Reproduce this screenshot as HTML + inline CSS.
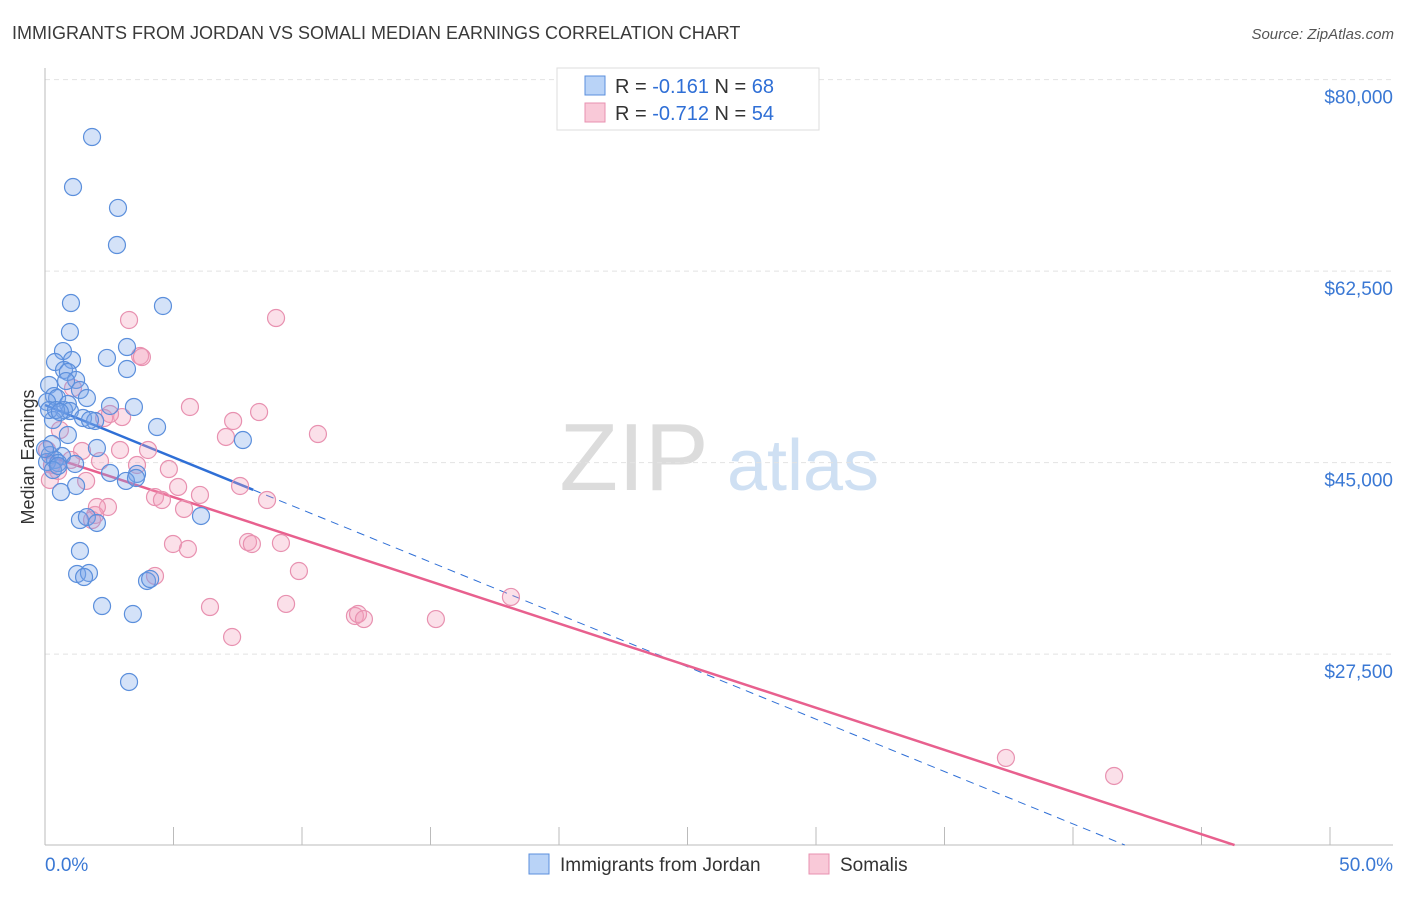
<!DOCTYPE html>
<html><head><meta charset="utf-8"><style>
body{margin:0;background:#fff;font-family:"Liberation Sans",sans-serif}
svg text{font-family:"Liberation Sans",sans-serif}
</style></head><body>
<svg id="chart" width="1406" height="892" viewBox="0 0 1406 892">
<text x="12" y="39" font-size="18" fill="#3a3a3a">IMMIGRANTS FROM JORDAN VS SOMALI MEDIAN EARNINGS CORRELATION CHART</text>
<text x="1394" y="39" font-size="15" fill="#555" font-style="italic" text-anchor="end">Source: ZipAtlas.com</text>
<g>
<text x="634" y="490" font-size="96" fill="#dcdcdc" font-family="Liberation Serif" text-anchor="middle">ZIP</text>
<text x="803" y="490" font-size="72" fill="#cfe0f3" text-anchor="middle">atlas</text>
</g>
<g id="grid"></g><g id="axes"></g><g id="lines"></g><g id="points"></g>
<text transform="translate(34,457) rotate(-90)" font-size="18" fill="#333" text-anchor="middle">Median Earnings</text>
<g>
<rect x="557" y="68" width="262" height="62" fill="#fff" stroke="#ddd"/>
<rect x="585" y="76" width="20" height="19" fill="#b9d3f7" stroke="#5b8fdc"/>
<text x="615" y="93" font-size="20" fill="#333">R = <tspan fill="#2f6fd6">-0.161</tspan>   N = <tspan fill="#2f6fd6">68</tspan></text>
<rect x="585" y="103" width="20" height="19" fill="#f9c9d8" stroke="#e891b0"/>
<text x="615" y="120" font-size="20" fill="#333">R = <tspan fill="#2f6fd6">-0.712</tspan>   N = <tspan fill="#2f6fd6">54</tspan></text>
</g>
<g>
<rect x="529" y="854" width="20" height="20" fill="#b9d3f7" stroke="#5b8fdc"/>
<text x="560" y="871" font-size="19" fill="#333">Immigrants from Jordan</text>
<rect x="809" y="854" width="20" height="20" fill="#f9c9d8" stroke="#e891b0"/>
<text x="840" y="871" font-size="19" fill="#333">Somalis</text>
</g>
</svg>
<script>
const yTicks=[27500,45000,62500,80000];
const yTickLabels=["$27,500","$45,000","$62,500","$80,000"];
const xEndLabels=["0.0%","50.0%"];
const blueX=[1.83,1.09,2.84,2.80,1.01,4.59,0.97,3.19,0.70,2.41,1.05,0.39,3.19,0.74,0.89,1.21,0.16,0.82,1.36,0.35,0.47,1.63,0.08,0.89,2.53,3.46,0.74,0.97,1.48,0.31,1.95,4.36,0.89,7.70,2.02,0.19,0.66,0.39,0.08,0.51,2.53,1.17,3.58,3.15,3.54,1.21,0.62,6.07,1.36,1.63,2.02,1.36,1.25,1.71,1.52,3.97,4.09,2.22,3.42,3.27,0.27,0.16,0.43,0.58,0.31,0.51,0.00,1.75];
const blueY=[74.75,70.18,68.27,64.88,59.58,59.31,56.93,55.56,55.19,54.56,54.37,54.19,53.55,53.46,53.28,52.55,52.09,52.45,51.63,51.08,50.90,50.90,50.54,50.35,50.17,50.08,49.80,49.71,49.07,48.89,48.80,48.25,47.52,47.06,46.33,45.69,45.60,45.24,45.05,44.96,44.05,44.87,43.96,43.32,43.59,42.86,42.31,40.12,39.75,40.02,39.48,36.92,34.82,34.91,34.54,34.18,34.36,31.89,31.16,24.95,46.70,49.80,49.80,49.62,44.32,44.69,46.24,48.89];
const pinkX=[3.27,8.99,3.70,3.77,5.64,8.33,7.32,3.00,2.30,10.62,7.04,4.01,2.92,1.44,2.14,3.58,0.27,0.51,1.60,4.82,5.18,7.59,6.03,4.28,4.55,8.64,5.41,2.45,1.95,1.83,4.98,5.56,7.90,8.05,9.18,9.88,4.28,6.42,9.38,12.06,12.18,12.41,15.21,18.13,7.28,37.39,41.60,0.08,0.19,1.09,1.01,2.53,2.02,0.58];
const pinkY=[58.03,58.21,54.74,54.64,50.08,49.62,48.80,49.16,49.07,47.61,47.34,46.15,46.15,46.06,45.14,44.78,44.78,44.23,43.32,44.41,42.77,42.86,42.04,41.85,41.58,41.58,40.76,40.94,40.21,39.75,37.56,37.10,37.74,37.56,37.65,35.09,34.64,31.80,32.08,30.98,31.16,30.70,30.70,32.72,29.06,18.01,16.36,46.15,43.41,51.81,45.24,49.44,40.94,47.97];
const blueTrend=[50.26,-0.957]; // intercept (k$), slope per %
const pinkTrend=[45.69,-0.770];
const NS="http://www.w3.org/2000/svg";
const X0=45,X1=1330,Y0=955,PXK=191.5/17.5,BOT=845;
const sx=p=>X0+(p/50)*(X1-X0);
const sy=k=>Y0-k*PXK;
function mk(t,a,parent){const e=document.createElementNS(NS,t);for(const k in a)e.setAttribute(k,a[k]);document.getElementById(parent).appendChild(e);return e;}
yTicks.forEach((v,i)=>{
 const g=mk('line',{x1:45,x2:1393,y1:sy(v/1000),y2:sy(v/1000),stroke:'#e2e2e2','stroke-dasharray':'5,4'},'grid');
 
 
 const t=mk('text',{x:1393,y:sy(v/1000)+24,'font-size':19,fill:'#3a78d4','text-anchor':'end'},'grid');
 t.textContent=yTickLabels[i];
 
 
});
const ya=mk('line',{x1:45,x2:45,y1:68,y2:BOT,stroke:'#bbb'},'axes');


const xa=mk('line',{x1:45,x2:1393,y1:BOT,y2:BOT,stroke:'#bbb'},'axes');


for(let i=0;i<=10;i++){
 const t=mk('line',{x1:sx(i*5),x2:sx(i*5),y1:827,y2:BOT,stroke:'#bbb'},'axes');
 
 
}
[[0,'start',45],[1,'end',1393]].forEach(([i,a,x])=>{
 const t=mk('text',{x:x,y:871,'font-size':19,fill:'#3a78d4','text-anchor':a},'axes');
 t.textContent=xEndLabels[i];
 
 
});
function pts(xs,ys,fill,stroke,name){
 xs.forEach((x,i)=>{
  const c=mk('circle',{cx:sx(x),cy:sy(ys[i]),r:8.5,fill:fill,stroke:stroke,'stroke-width':1.2},'points');
  
  
 });
}
pts(pinkX,pinkY,'rgba(242,160,188,0.32)','#e891b0','somali-point');
pts(blueX,blueY,'rgba(120,165,232,0.32)','#5b8fdc','jordan-point');
const kb=10.05, endB=(kb-blueTrend[0])/blueTrend[1], endP=(kb-pinkTrend[0])/pinkTrend[1];
const bl=mk('line',{x1:sx(0),y1:sy(blueTrend[0]),x2:sx(8.1),y2:sy(blueTrend[0]+blueTrend[1]*8.1),stroke:'#2f6fd6','stroke-width':2.5},'lines');


const bd=mk('line',{x1:sx(8.1),y1:sy(blueTrend[0]+blueTrend[1]*8.1),x2:sx(endB),y2:sy(kb),stroke:'#2f6fd6','stroke-width':1,'stroke-dasharray':'8,6'},'lines');


const pl=mk('line',{x1:sx(0),y1:sy(pinkTrend[0]),x2:sx(endP),y2:sy(kb),stroke:'#e8608e','stroke-width':2.5},'lines');


</script>
</body></html>
